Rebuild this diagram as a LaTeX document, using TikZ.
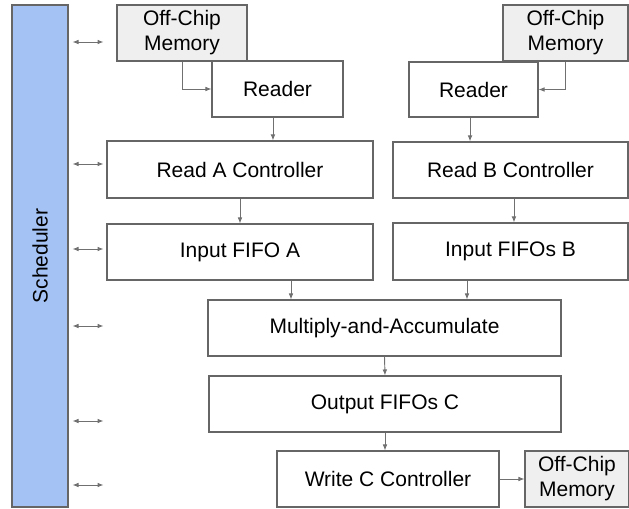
\documentclass[tikz,border=0pt]{standalone}
\usepackage{fontspec}
\setmainfont{Liberation Sans}
\usetikzlibrary{arrows.meta,calc}
\definecolor{edge}{HTML}{666666}
\definecolor{arrowc}{HTML}{707070}
\definecolor{schblue}{HTML}{A4C2F4}
\definecolor{memgray}{HTML}{EFEFEF}
\newcommand\bx[7]{\node[#1,minimum width={(#5-#3)*0.75pt},minimum height={(#6-#4)*0.75pt}] (#2) at ({(#3+#5)/2},{(#4+#6)/2}) {#7};}
\begin{document}
\begin{tikzpicture}[x=0.75pt,y=-0.75pt,
  box/.style={draw=edge,line width=0.8pt,fill=white,inner sep=0pt,align=center,
    font=\fontsize{15.75}{18.75}\selectfont},
  membox/.style={box,fill=memgray},
  schbox/.style={box,fill=schblue},
  arr/.style={draw=arrowc,line width=0.7pt,-{Latex[length=4.5pt,width=3.5pt]}},
  darr/.style={draw=arrowc,line width=0.7pt,{Latex[length=4.5pt,width=3.5pt]}-{Latex[length=4.5pt,width=3.5pt]}}]
\useasboundingbox (0,0) rectangle (629,508);
% Scheduler
\bx{schbox}{sch}{12}{5}{68}{507}{}
\node[rotate=90,font=\fontsize{15.75}{18.75}\selectfont] (schlbl) at (sch.center) {Scheduler};
% boxes
\bx{membox}{m1}{117}{5}{247}{61}{Off-Chip\\Memory}
\bx{box}{r1}{212}{61}{343}{117}{Reader}
\bx{membox}{m2}{503}{5}{628}{61}{Off-Chip\\Memory}
\bx{box}{r2}{409}{62}{538}{117}{Reader}
\bx{box}{ra}{107}{141}{373}{198}{Read A Controller}
\bx{box}{rb}{393}{142}{628}{198}{Read B Controller}
\bx{box}{ia}{107}{224}{373}{280}{Input FIFO A}
\bx{box}{ib}{393}{223}{628}{280}{Input FIFOs B}
\bx{box}{mac}{208}{300}{561}{356}{Multiply-and-Accumulate}
\bx{box}{oc}{209}{376}{561}{432}{Output FIFOs C}
\bx{box}{wc}{277}{451}{499}{507}{Write C Controller}
\bx{membox}{m3}{525}{451}{629}{507}{Off-Chip\\Memory}
% connectors
\draw[arr] (m1.south) |- (r1.west);
\draw[arr] (m2.south) |- (r2.east);
\draw[arr] ([xshift=-3.4pt]r1.south) -- ([xshift=-3.4pt]r1.south |- ra.north);
\draw[arr] ([xshift=-2.6pt]r2.south) -- ([xshift=-2.6pt]r2.south |- rb.north);
\draw[arr] (ra.south) -- (ia.north);
\draw[arr] ([xshift=2.6pt]rb.south) -- ([xshift=2.6pt]rb.south |- ib.north);
\draw[arr] (ia.south -| 291,0) -- (mac.north -| 291,0);
\draw[arr] (ib.south -| 467,0) -- (mac.north -| 467,0);
\draw[arr] (mac.south) -- (oc.north);
\draw[arr] (oc.south) -- (oc.south |- wc.north);
\draw[arr] (wc.east) -- (m3.west);
% scheduler links
\foreach \yy in {42,164,249,326,421,485}{
  \draw[darr] (sch.east |- 72,\yy) ++(4,0) -- ++(31,0);
}
\end{tikzpicture}
\end{document}
